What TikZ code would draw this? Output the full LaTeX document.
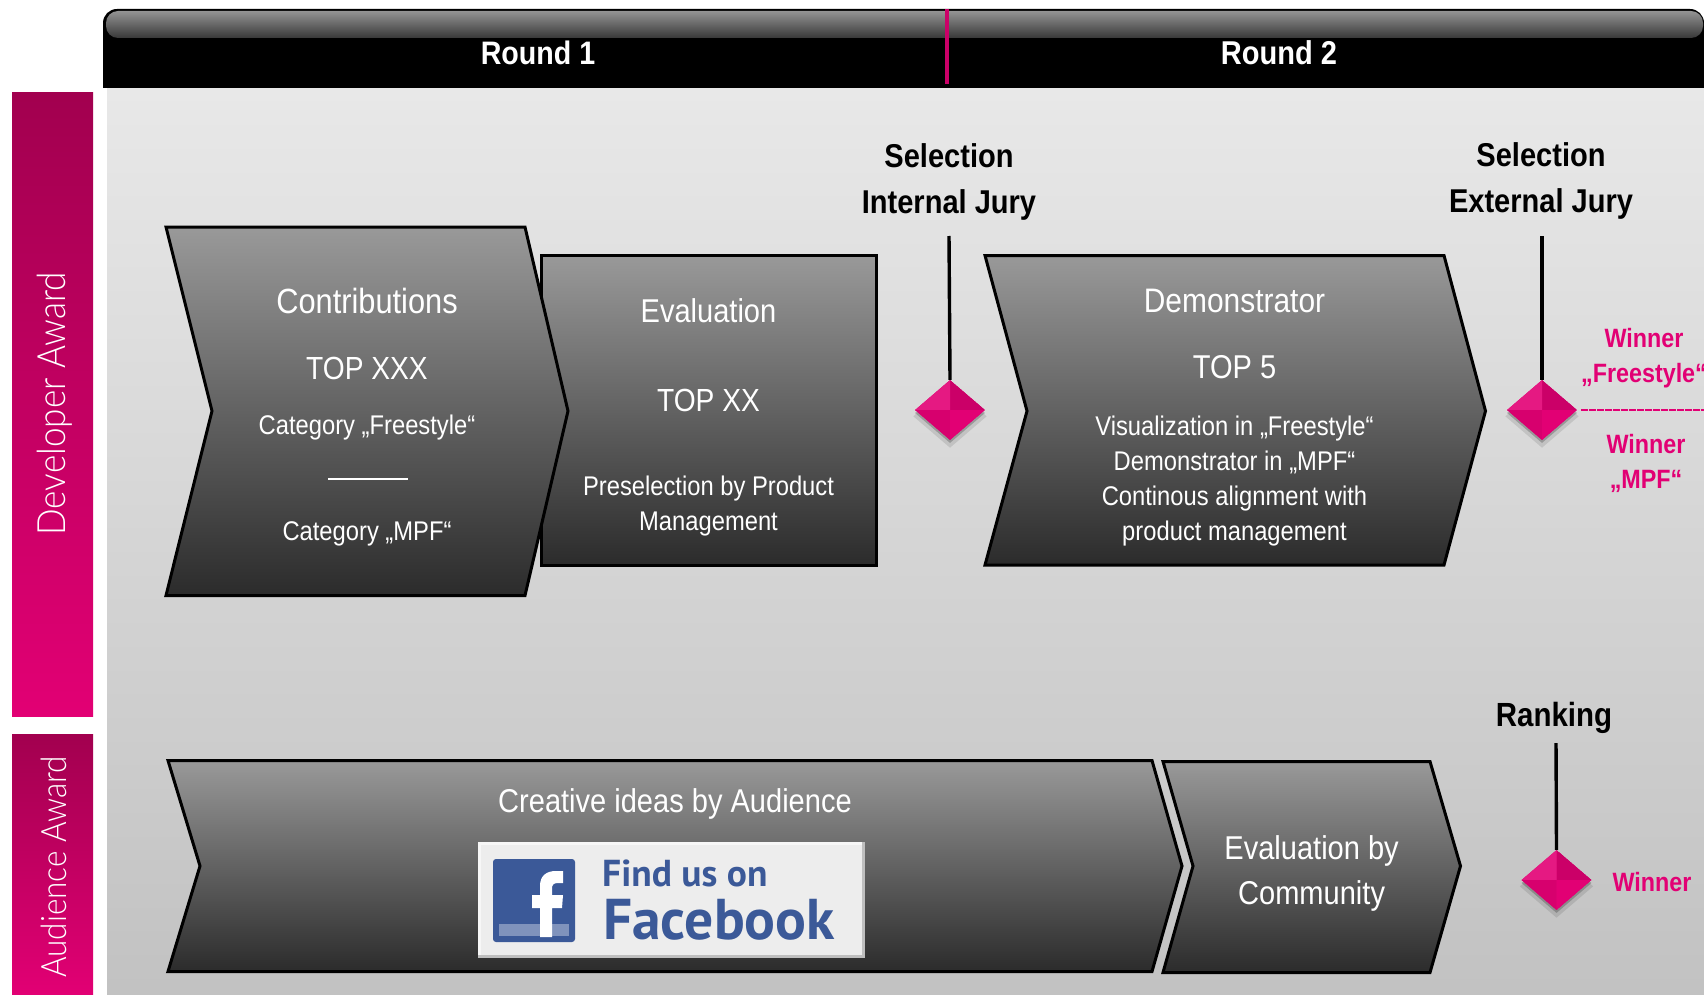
\documentclass[tikz,border=0pt]{standalone}
\usepackage{fontspec}
\setmainfont{Liberation Sans}[FakeStretch=0.88]
\newfontfamily\fbfont{PT Sans}
\newfontfamily\lightfont{Lato Light}[FakeStretch=0.9]
\usetikzlibrary{shapes.geometric,shadows}
\definecolor{tpink}{HTML}{E20074}
\definecolor{tdark}{HTML}{A2004F}
\definecolor{fbblue}{HTML}{3B5998}
\tikzset{
  chev/.style={draw=black,line width=3pt,miter limit=10,top color=black!40,bottom color=black!83},
  big/.style={text=white,font=\fontsize{33}{40}\selectfont,align=center,inner sep=0pt},
  small/.style={text=white,font=\fontsize{27}{35}\selectfont,align=center,inner sep=0pt},
  head/.style={text=black,font=\bfseries\fontsize{33}{45.5}\selectfont,align=center,inner sep=0pt},
  win/.style={text=tpink,font=\bfseries\fontsize{26.5}{35}\selectfont,align=center,inner sep=0pt},
  bar/.style={top color=tdark,bottom color=tpink,draw=none},
  award/.style={text=white,rotate=90,inner sep=0pt},
  stem/.style={draw=black,line width=3.4pt},
  dia/.style={diamond,minimum width=70pt,minimum height=60pt,inner sep=0pt,aspect=1.17,fill=tpink,
    drop shadow={shadow xshift=0pt,shadow yshift=-6pt,shadow scale=1.05,opacity=.10,fill=black},
    drop shadow={shadow xshift=0pt,shadow yshift=-3pt,opacity=.22,fill=black},
    path picture={
      \fill[tpink!90!black] (path picture bounding box.north) -- (path picture bounding box.east) -- (path picture bounding box.center) -- cycle;
      \fill[tpink!90!white] (path picture bounding box.west) -- (path picture bounding box.center) -- (path picture bounding box.north) -- cycle;
      \fill[tpink!95!black] (path picture bounding box.west) -- (path picture bounding box.center) -- (path picture bounding box.south) -- cycle;
      \fill[tpink] (path picture bounding box.east) -- (path picture bounding box.center) -- (path picture bounding box.south) -- cycle;
    }},
}
\begin{document}
\begin{tikzpicture}[x=1pt,y=-1pt]
\useasboundingbox (0,0) rectangle (1704,995);
\clip (0,0) rectangle (1704,995);
\fill[white] (0,0) rectangle (1704,995);
% background panel
\shade[top color=black!9,bottom color=black!24] (107,88) rectangle (1704,995);
% header
\fill[black,rounded corners=14pt] (103,88) |- (1704,9) -- (1704,40) -- (1704,88) -- cycle;
\fill[black] (103,40) rectangle (1704,88);
\shade[top color=black!42,bottom color=black!78,rounded corners=12pt] (106,11) rectangle (1703,38);
\fill[tpink!90!black] (944.5,9) rectangle (948.5,84);
\node[text=white,font=\bfseries\fontsize{32.5}{38}\selectfont,inner sep=0pt] (r1) at (538,53) {Round 1};
\node[text=white,font=\bfseries\fontsize{33}{38}\selectfont,inner sep=0pt] (r2) at (1279,53) {Round 2};
% side bars
\shade[bar] (12,93) rectangle (93,716);
\shade[bar] (12,734) rectangle (93,995);
\node[award,font=\lightfont\fontsize{39}{44}\selectfont] (dev) at (55,404) {Developer Award};
\node[award,font=\lightfont\fontsize{35}{40}\selectfont] (aud) at (54,867) {Audience Award};
% evaluation box under contributions
\path[chev] (541,255.5) rectangle (876.5,565);
\path[chev] (166,227) -- (525,227) -- (568,411) -- (525,595.5) -- (166,595.5) -- (212,411) -- cycle;
\path[chev] (985,255.5) -- (1444,255.5) -- (1485.5,411) -- (1444,565) -- (985,565) -- (1027,411) -- cycle;
\path[chev] (168,760.5) -- (1152,760.5) -- (1182,866) -- (1152,971.5) -- (168,971.5) -- (200,866) -- cycle;
\path[chev] (1163,761.5) -- (1430,761.5) -- (1460.5,866) -- (1430,972.5) -- (1163,972.5) -- (1193,866) -- cycle;
% contributions
\node[big,font=\fontsize{35}{40}\selectfont] (c1) at (367,301) {Contributions};
\node[big,font=\fontsize{32}{40}\selectfont] (c2) at (367,368) {TOP XXX};
\node[small] (c3) at (367,428) {Category „Freestyle“};
\draw[white,line width=1.8pt] (328,479) -- (407.5,479);
\node[small] (c4) at (367,533.5) {Category „MPF“};
% evaluation
\node[big] (e1) at (708.5,311) {Evaluation};
\node[big,font=\fontsize{32}{40}\selectfont] (e2) at (708.5,400) {TOP XX};
\node[small] (e3) at (708.5,506) {Preselection by Product\\Management};
% demonstrator
\node[big,font=\fontsize{34}{40}\selectfont] (m1) at (1234.5,300.5) {Demonstrator};
\node[big] (m2) at (1234.5,367) {TOP 5};
\node[small] (m3) at (1234.5,481) {Visualization in „Freestyle“\\Demonstrator in „MPF“\\Continous alignment with\\product management};
% audience row
\node[big] (a1) at (675,804) {Creative ideas by Audience};
\node[big,font=\fontsize{33}{44.5}\selectfont] (a2) at (1311.6,873.5) {Evaluation by\\Community};
% facebook badge
\fill[black!25] (478,842) rectangle (865,958);
\fill[white!97!black] (478,842) rectangle (862,955);
\fill[white!93!black] (481,845) rectangle (862,955);
\fill[fbblue,rounded corners=3pt] (493,859) rectangle (575,942);
\fill[fbblue!65!white] (499,924) rectangle (569,936);
\fill[white] (540,937) -- (540,908) -- (532,908) -- (532,895) -- (540,895) -- (540,886) .. controls (540,876) and (546,871) .. (556,871) -- (563,871) -- (563,883) -- (558,883) .. controls (553,883) and (552,885) .. (552,889) -- (552,895) -- (563,895) -- (562,908) -- (552,908) -- (552,937) -- cycle;
\node[text=fbblue,font=\fbfont\bfseries\fontsize{37.5}{40}\selectfont,anchor=west,inner sep=0pt] (f1) at (602,873) {Find us on};
\node[text=fbblue,font=\fbfont\bfseries\fontsize{57.5}{60}\selectfont,anchor=west,inner sep=0pt] (f2) at (603,920) {Facebook};
% gates
\node[head] (s1) at (949,182) {Selection\\Internal Jury};
\node[head] (s2) at (1541,181) {Selection\\External Jury};
\node[head,font=\bfseries\fontsize{33.5}{45}\selectfont] (s3) at (1554,718) {Ranking};
\node[dia] (d1) at (950,410) {};
\node[dia] (d2) at (1542,410) {};
\node[dia] (d3) at (1556.5,880) {};
\coordinate (t1) at (949,236);
\coordinate (t2) at (1542,236);
\coordinate (t3) at (1556,743);
\draw[stem] (t1) -- (d1.north);
\draw[stem] (t2) -- (d2.north);
\draw[stem] (t3) -- (d3.north);
% winners
\node[win] (w1) at (1644,358.5) {Winner\\„Freestyle“};
\node[win] (w2) at (1646,463.5) {Winner\\„MPF“};
\node[win] (w3) at (1652,882) {Winner};
\coordinate (l1) at (1581,409.5);
\coordinate (l2) at (1704,409.5);
\draw[tpink,line width=2pt,dash pattern=on 7pt off 1pt] (l1) -- (l2);
\end{tikzpicture}
\end{document}
